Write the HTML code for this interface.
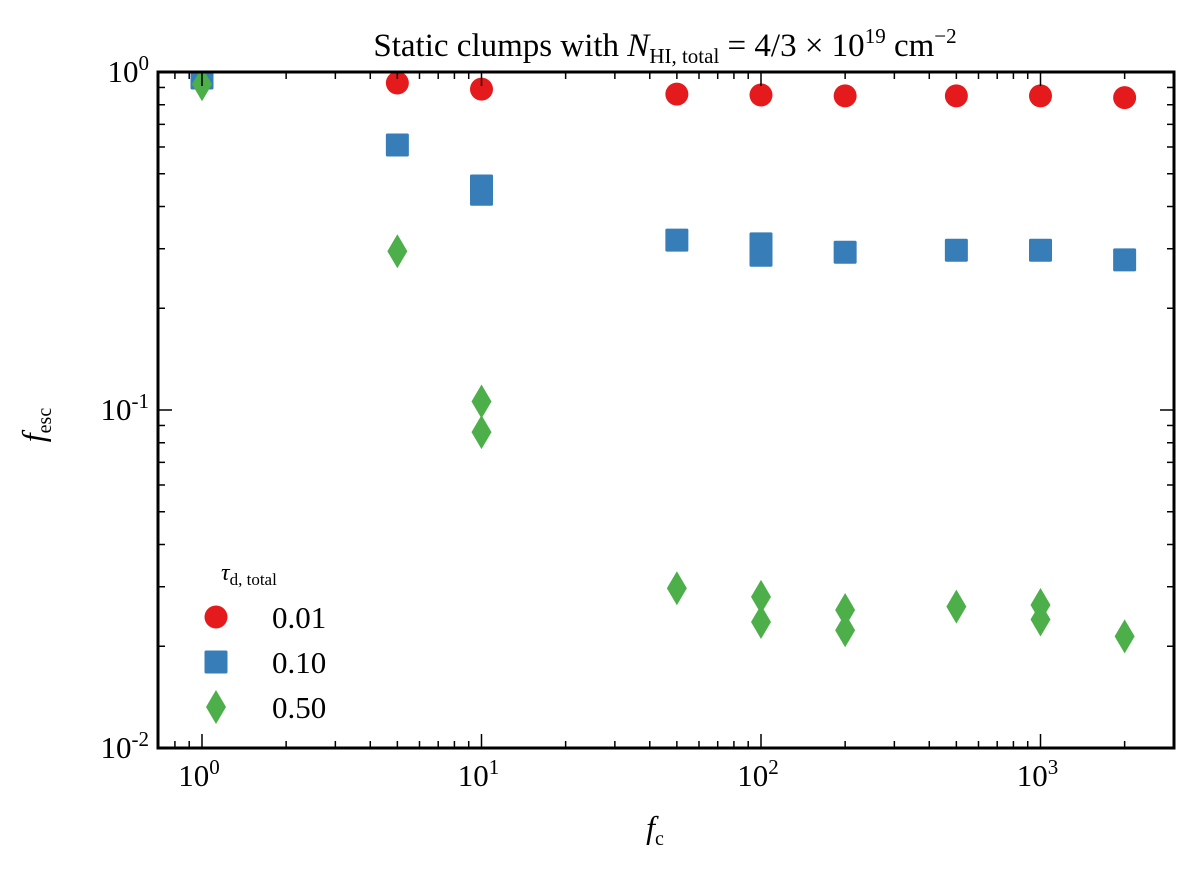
<!DOCTYPE html>
<html><head><meta charset="utf-8"><style>
body{margin:0;background:#fff;}
svg text{font-family:"Liberation Serif","DejaVu Serif",serif;fill:#000;}
</style></head><body>
<svg id="chart" width="1200" height="874" xmlns="http://www.w3.org/2000/svg">
<defs><clipPath id="clip"><rect x="158" y="72" width="1016" height="676"/></clipPath></defs>
<g id="marks" clip-path="url(#clip)"></g>
<g id="axes"></g>
</svg>
<script>
const redX = [1,5,10,50,100,200,500,1000,2000];
const redY = [0.95,0.928,0.89,0.86,0.855,0.85,0.85,0.85,0.84];
const blueX = [1,5,10,10,50,100,100,200,500,1000,2000];
const blueY = [0.96,0.608,0.46,0.435,0.318,0.31,0.287,0.293,0.297,0.297,0.278];
const greenX = [1,5,10,10,50,100,100,200,200,500,1000,1000,2000];
const greenY = [0.92,0.295,0.106,0.086,0.0297,0.028,0.0236,0.0256,0.0223,0.0262,0.0265,0.024,0.0214];
const xTicks = [1,10,100,1000];
const xTickLabels = ["0","1","2","3"];
const yTicks = [0.01,0.1,1];
const yTickLabels = ["-2","-1","0"];

const L=158,R=1174,T=72,B=748;
const X0=202, XD=279.5, YD=338;
const sx=v=>X0+Math.log10(v)*XD;
const sy=v=>T-Math.log10(v)*YD;
const NS="http://www.w3.org/2000/svg";
function mk(tag,attrs,parent){const e=document.createElementNS(NS,tag);for(const k in attrs)e.setAttribute(k,attrs[k]);parent.appendChild(e);return e;}
const marks=document.getElementById('marks'), axes=document.getElementById('axes');

function circle(cx,cy,g){return mk('circle',{cx:cx,cy:cy,r:11.5,fill:'#e41a1c'},g);}
function square(cx,cy,g){return mk('rect',{x:cx-11.5,y:cy-11.5,width:23,height:23,rx:1.5,fill:'#377eb8'},g);}
function diamond(cx,cy,g){return mk('polygon',{points:`${cx},${cy-17} ${cx+10},${cy} ${cx},${cy+17} ${cx-10},${cy}`,fill:'#4daf4a'},g);}

redX.forEach((x,i)=>{const e=circle(sx(x),sy(redY[i]),marks);

});
blueX.forEach((x,i)=>{const e=square(sx(x),sy(blueY[i]),marks);

});
greenX.forEach((x,i)=>{const e=diamond(sx(x),sy(greenY[i]),marks);

});

for(let d=-1;d<=4;d++){for(let m=1;m<10;m++){const v=Math.pow(10,d)*m;const x=sx(v);if(x<L||x>R)continue;const len=m==1?14:7;
mk('line',{x1:x,y1:B,x2:x,y2:B-len,stroke:'#000','stroke-width':1.5},axes);
mk('line',{x1:x,y1:T,x2:x,y2:T+len,stroke:'#000','stroke-width':1.5},axes);}}
for(let d=-2;d<=0;d++){for(let m=1;m<10;m++){const v=Math.pow(10,d)*m;const y=sy(v);if(y<T-0.5||y>B+0.5)continue;const len=m==1?14:7;
mk('line',{x1:L,y1:y,x2:L+len,y2:y,stroke:'#000','stroke-width':1.5},axes);
mk('line',{x1:R,y1:y,x2:R-len,y2:y,stroke:'#000','stroke-width':1.5},axes);}}
mk('rect',{x:L,y:T,width:R-L,height:B-T,fill:'none',stroke:'#000','stroke-width':3},axes);

xTicks.forEach((v,i)=>{const t=mk('text',{x:sx(v)-3,y:786,'font-size':31,'text-anchor':'middle'},axes);


t.innerHTML=`10<tspan dy="-12" font-size="21">${xTickLabels[i]}</tspan>`;});
yTicks.forEach((v,i)=>{const t=mk('text',{x:149,y:sy(v)+10,'font-size':31,'text-anchor':'end'},axes);


t.innerHTML=`10<tspan dy="-12" font-size="21">${yTickLabels[i]}</tspan>`;});

let t=mk('text',{x:665,y:56,'font-size':33,'text-anchor':'middle'},axes);


t.innerHTML='Static clumps with <tspan font-style="italic">N</tspan><tspan font-size="21" dy="7">HI, total</tspan><tspan dy="-7"> = 4/3 × 10</tspan><tspan font-size="21" dy="-13">19</tspan><tspan dy="13"> cm</tspan><tspan font-size="21" dy="-13">−2</tspan>';
t=mk('text',{x:655,y:838,'font-size':32,'font-style':'italic','text-anchor':'middle'},axes);


t.innerHTML='f<tspan font-size="20" font-style="normal" dy="7">c</tspan>';
t=mk('text',{x:0,y:0,'font-size':32,'font-style':'italic','transform':'translate(44,425) rotate(-90)','text-anchor':'middle'},axes);


t.innerHTML='f<tspan font-size="20" font-style="normal" dy="7">esc</tspan>';

const lg=mk('g',{},axes);


t=mk('text',{x:221,y:580,'font-size':24,'font-style':'italic'},lg);
t.innerHTML='τ<tspan font-size="17" font-style="normal" dy="5">d, total</tspan>';
const legLabels=["0.01","0.10","0.50"];
const legY=[617,662,707];
const fns=[circle,square,diamond];
legLabels.forEach((s,i)=>{const g=mk('g',{},lg);


fns[i](216,legY[i],g);
const tx=mk('text',{x:272,y:legY[i]+11,'font-size':31},g);tx.textContent=s;});
</script>
</body></html>
